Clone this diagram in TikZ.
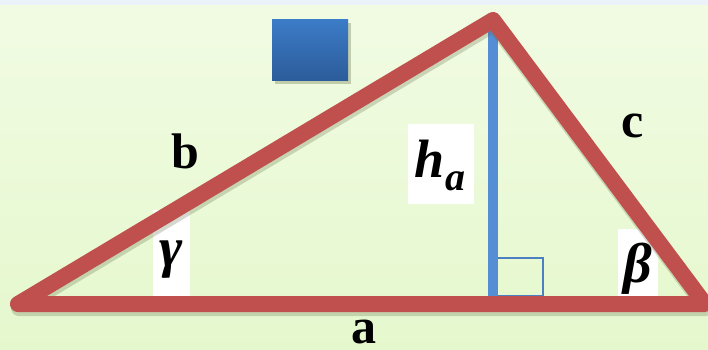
\RequirePackage{fix-cm}
\documentclass[tikz,border=0pt]{standalone}
\usepackage{fontspec}
\setmainfont{Liberation Serif}
\usetikzlibrary{calc}
\definecolor{bgtop}{RGB}{241,251,227}
\definecolor{bgbot}{RGB}{229,248,205}
\definecolor{stripblue}{RGB}{236,242,250}
\definecolor{sidered}{RGB}{192,80,77}
\definecolor{heightblue}{RGB}{85,142,213}
\definecolor{sqtop}{RGB}{60,124,200}
\definecolor{sqbot}{RGB}{44,92,154}
\definecolor{shadowc}{RGB}{90,100,60}
\tikzset{
  side/.style={line width=16pt,sidered,line join=round,line cap=round},
  sideshadow/.style={line width=16pt,shadowc,opacity=0.25,line join=round,line cap=round},
  labelbox/.style={fill=white},
  sidelabel/.style={anchor=base,inner sep=0pt,font=\fontsize{50}{60}\selectfont\bfseries},
  anglelabel/.style={anchor=base,inner sep=0pt,font=\fontsize{56}{66}\selectfont\bfseries\itshape}
}

\begin{document}
\begin{tikzpicture}[x=1pt,y=-1pt]
\useasboundingbox (0,0) rectangle (708,349);
\clip (0,0) rectangle (708,349);
\shade[top color=bgtop,bottom color=bgbot] (0,5) rectangle (708,349);
\fill[stripblue] (0,0) rectangle (708,5);
% vertices of the triangle and foot of the height
\coordinate (C) at (18,304);
\coordinate (A) at (493,20);
\coordinate (B) at (705,304);
\coordinate (H) at (493,304);
% white boxes behind the labels
\fill[labelbox] (408,124) rectangle (474,204);
\fill[labelbox] (153,210) rectangle (190,296);
\fill[labelbox] (618,229) rectangle (658,296);
% blue square
\fill[shadowc,opacity=0.3] (275,23) rectangle (351,84);
\shade[top color=sqtop,bottom color=sqbot] (272,19) rectangle (348,80);
% height and right angle
\draw[heightblue,line width=10pt] (A) -- (H);
\draw[heightblue!90!black,line width=1.5pt] (498,296) -- (543,296) -- (543,258) -- (498,258);
% sides
\draw[sideshadow,transform canvas={yshift=-4pt,xshift=1pt}] (C) -- (A) -- (B) -- cycle;
\draw[side] (C) -- (A) -- (B) -- cycle;
\node[sidelabel] (lb) at (185.5,168) {b};
\node[sidelabel] (lc) at (633,137) {c};
\node[sidelabel] (la) at (364,343) {a};
\node[anchor=base,inner sep=0pt,font=\fontsize{54}{60}\selectfont\bfseries\itshape] (lh) at (440,177)
  {h\raisebox{-13pt}{\fontsize{40}{44}\selectfont a}};
\node[anglelabel] (lg) at (171.5,266) {γ};
\node[anglelabel] (lbeta) at (637.5,282) {β};
\end{tikzpicture}
\end{document}
